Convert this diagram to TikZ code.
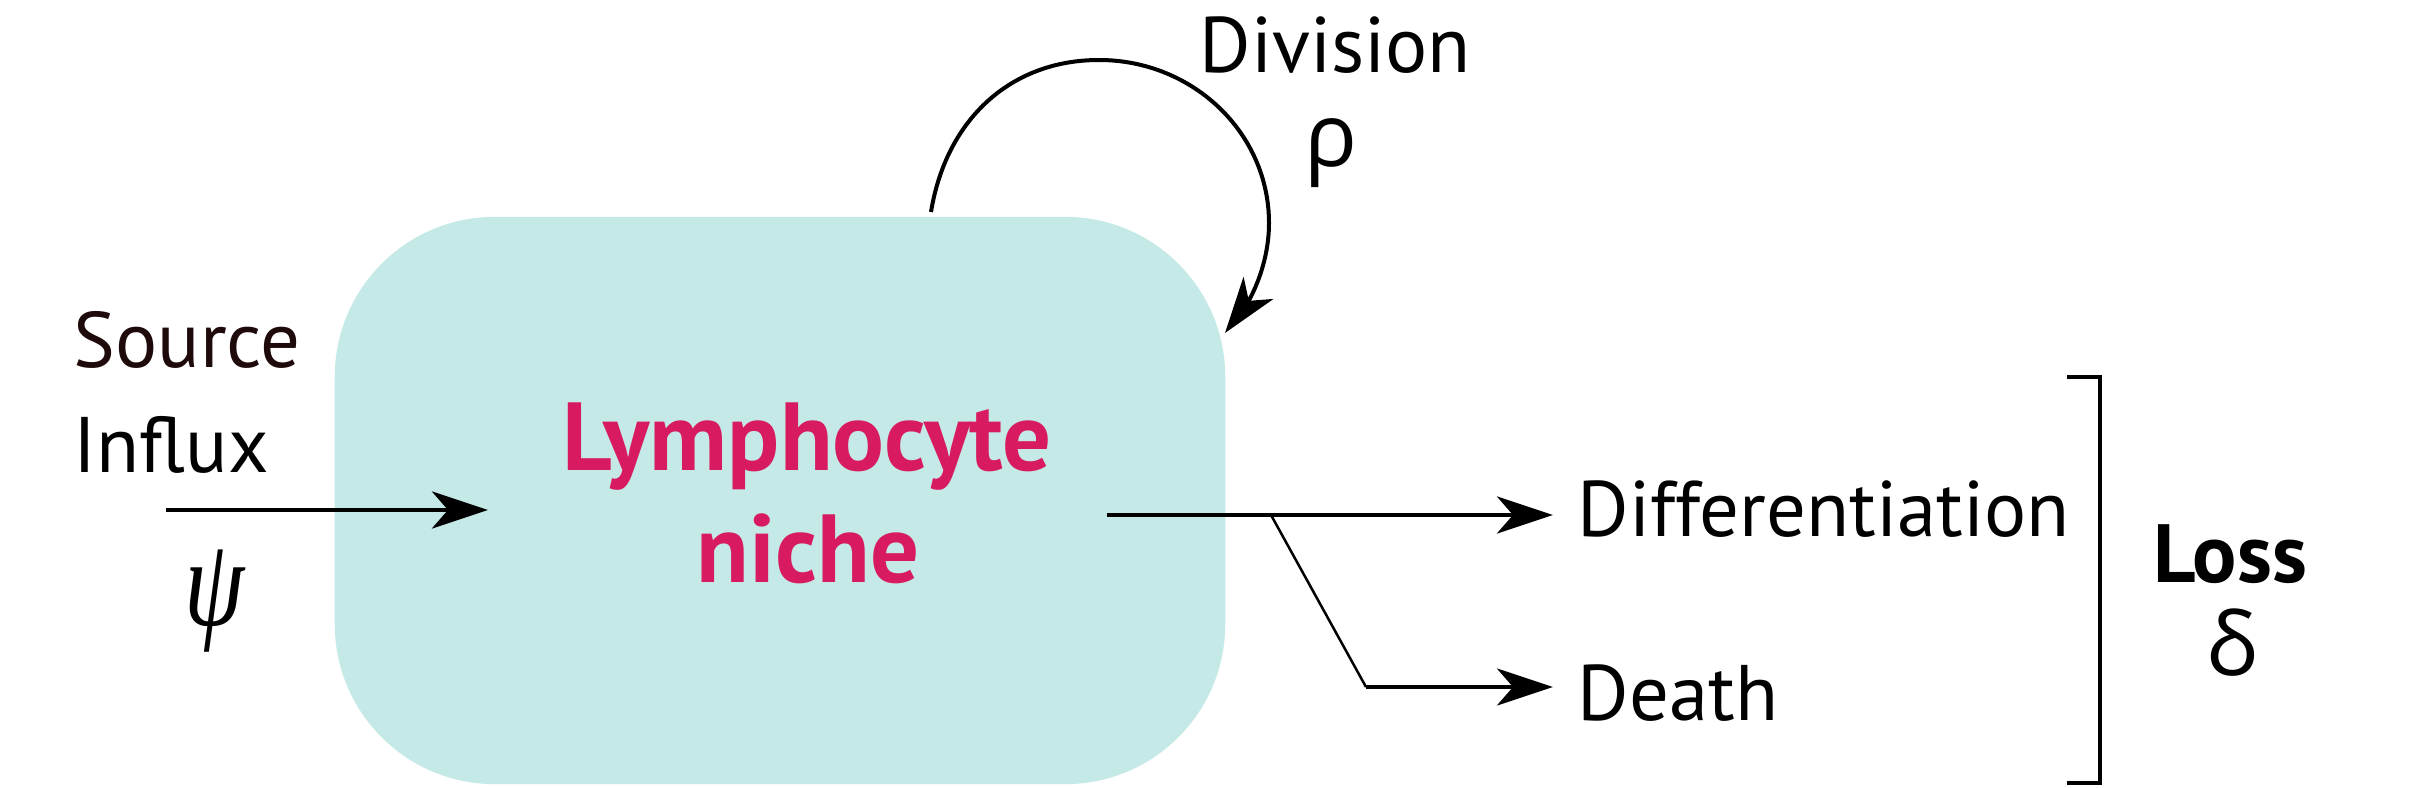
\documentclass[tikz,border=0pt]{standalone}
\usepackage{fontspec}
\usepackage{graphicx}
\setmainfont{PT Sans}
\newfontfamily\greekfont{Open Sans}
\newfontfamily\serifgreek{Liberation Serif}
\usetikzlibrary{arrows.meta}
\definecolor{nichefill}{HTML}{C4E9E6}
\definecolor{nichetext}{HTML}{D81B60}
\definecolor{sourcetext}{HTML}{1E0A0A}
\begin{document}
\begin{tikzpicture}[x=0.01cm,y=-0.01cm,
  lbl/.style={inner sep=0pt, font=\fontsize{22.4}{27}\selectfont},
  boldlbl/.style={inner sep=0pt, font=\fontsize{23.5}{28}\selectfont\bfseries},
  nichelbl/.style={inner sep=0pt, text=nichetext, font=\fontsize{27.5}{32}\selectfont\bfseries},
  greeklbl/.style={inner sep=0pt, font=\fontsize{25}{30}\selectfont\greekfont},
  psilbl/.style={inner sep=0pt, font=\fontsize{27.5}{32}\selectfont\serifgreek\itshape},
  flow/.style={line width=0.04cm, -{Stealth[length=0.56cm,width=0.37cm,inset=0.16cm]}},
  thinflow/.style={line width=0.035cm, -{Stealth[length=0.56cm,width=0.37cm,inset=0.16cm]}},
  nichebox/.style={fill=nichefill, draw=none, rounded corners=1.6cm, inner sep=0pt}
]
\useasboundingbox (0,0) rectangle (2429,788);

% niche box
\node[nichebox, minimum width=8.9cm, minimum height=5.67cm] (box) at (780,500.5) {};
\node[nichelbl, anchor=base] (lymph) at (807,471) {Lymphocyte};
\node[nichelbl, anchor=base] (nichetxt) at (808,582) {niche};

% source influx
\node[lbl, text=sourcetext, anchor=base west] (source) at (73,368) {Source};
\node[lbl, anchor=base west] (influx) at (73,472) {Influx};
\node[psilbl] (psi) at (215,601) {\scalebox{1}[1.3]{ψ}};
\coordinate (inStart) at (166,510);
\coordinate (inEnd) at (488,510);
\draw[flow] (inStart) -- (inEnd);

% division
\node[lbl, anchor=base west] (division) at (1199,73) {Division};
\node[greeklbl, anchor=base] (rho) at (1331,167) {ρ};
\coordinate (divStart) at (931,212);
\coordinate (divEnd) at (1225,333);
\draw[flow] (divStart) .. controls (946,120) and (1010,60) .. (1099,60)
  .. controls (1193,60) and (1269,133) .. (1269,223)
  .. controls (1269,268) and (1248,302) .. (divEnd);

% outputs
\coordinate (outStart) at (1107,515);
\coordinate (split) at (1271,515);
\coordinate (bend) at (1366,687);
\coordinate (diffEnd) at (1553,515);
\coordinate (deathEnd) at (1553,687);
\node[lbl, anchor=base west] (diff) at (1577,537) {Differentiation};
\node[lbl, anchor=base west] (death) at (1577,720) {Death};
\draw[flow] (outStart) -- (split) -- (diffEnd);
\draw[line width=0.025cm] (split) -- (bend);
\draw[thinflow] (bend) -- (deathEnd);

% loss bracket
\draw[line width=0.035cm] (2067,377) -- (2100,377) -- (2100,783) -- (2067,783);
\node[boldlbl, anchor=base] (loss) at (2230,582) {Loss};
\node[greeklbl, anchor=base] (delta) at (2232,675) {δ};
\end{tikzpicture}
\end{document}
